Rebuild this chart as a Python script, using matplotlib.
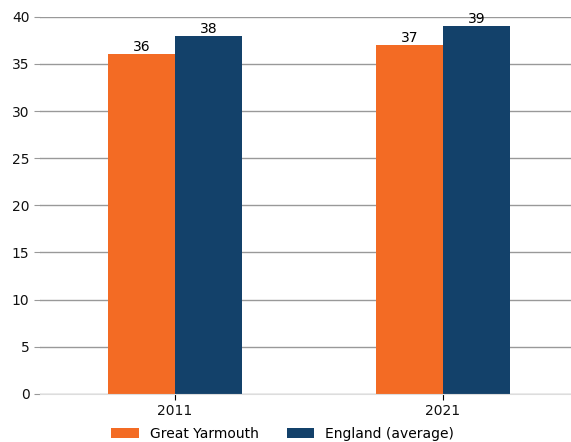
import numpy as np
import matplotlib
matplotlib.use("Agg")
import matplotlib.pyplot as plt

years = ["2011", "2021"]
great_yarmouth = [36, 37]
england = [38, 39]

orange = "#F36B24"
navy = "#13416A"

fig = plt.figure(figsize=(5.71, 4.42), dpi=100)
ax = fig.add_axes([0.070, 0.109, 0.930, 0.853])

x = np.arange(len(years))
w = 0.25
b1 = ax.bar(x - w / 2, great_yarmouth, w, color=orange, label="Great Yarmouth")
b2 = ax.bar(x + w / 2, england, w, color=navy, label="England (average)")
for bars in (b1, b2):
    ax.bar_label(bars, fontsize=10, padding=0)

ax.set_ylim(0, 40)
ax.set_yticks(range(0, 41, 5))
ax.set_xticks(x)
ax.set_xticklabels(years)
ax.set_xlim(-0.504, 1.478)
ax.yaxis.grid(True, color="#999999", linewidth=1)
ax.set_axisbelow(True)
for s in ["top", "right", "left"]:
    ax.spines[s].set_visible(False)
ax.spines["bottom"].set_color("#dddddd")
ax.tick_params(axis="both", labelsize=10, labelcolor="#111111", length=4)
ax.tick_params(axis="y", color="#999999")

fig.legend(handles=[b1, b2], loc="center", bbox_to_anchor=(0.495, 0.018), ncol=2,
           frameon=False, fontsize=10, handlelength=2.0, columnspacing=2.0,
           borderaxespad=0)

fig.savefig("out.png", dpi=100)
